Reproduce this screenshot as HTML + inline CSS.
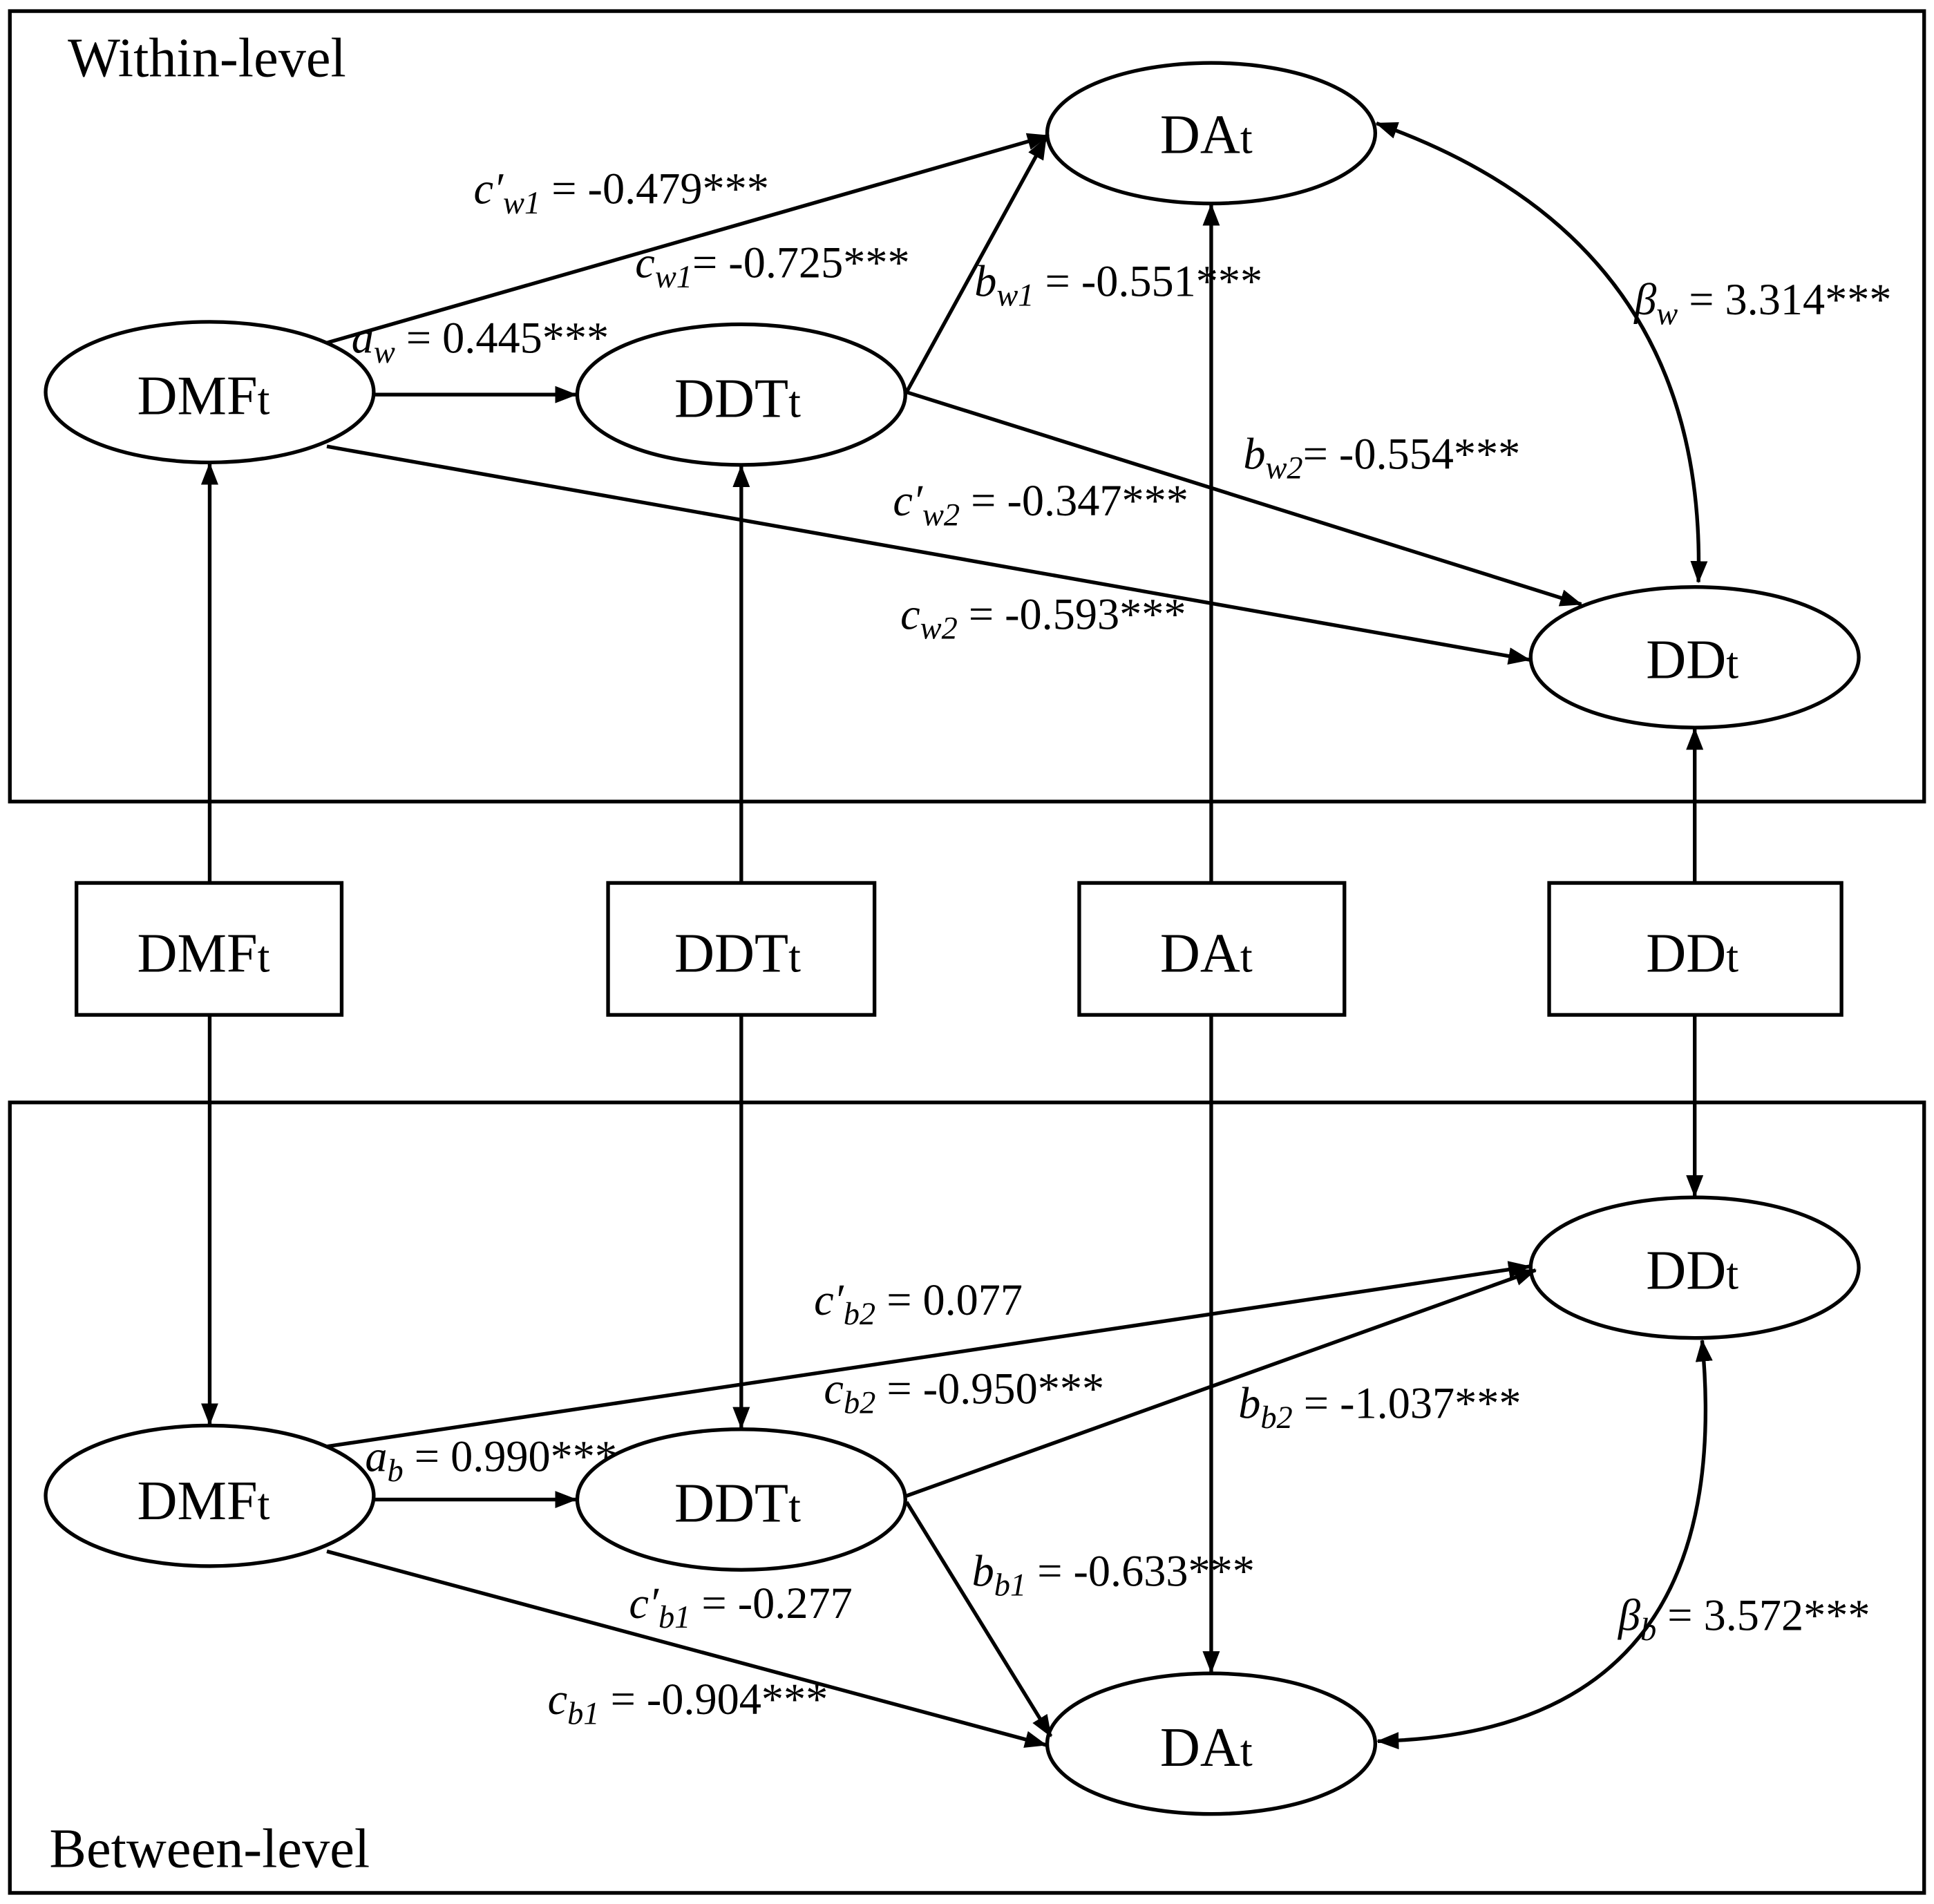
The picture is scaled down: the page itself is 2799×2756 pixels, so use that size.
<!DOCTYPE html>
<html><head><meta charset="utf-8"><style>
html,body{margin:0;padding:0;background:#fff;}
svg{display:block;}
text{font-family:"Liberation Serif",serif;fill:#000;}
.n{font-size:45px;}
.l{font-size:36px;}
.i{font-style:italic;}
</style></head><body>
<svg width="2799" height="2756" viewBox="0 0 1568 1544" preserveAspectRatio="none" xmlns="http://www.w3.org/2000/svg">
<defs>
<marker id="a" markerWidth="18" markerHeight="14" refX="17" refY="7" orient="auto" markerUnits="userSpaceOnUse">
<path d="M0,0 L18,7 L0,14 z" fill="#000"/></marker>
<marker id="s" markerWidth="18" markerHeight="14" refX="1" refY="7" orient="auto" markerUnits="userSpaceOnUse">
<path d="M18,0 L0,7 L18,14 z" fill="#000"/></marker>
</defs>
<g fill="none" stroke="#000" stroke-width="3">
<rect x="8" y="9" width="1552" height="641"/>
<rect x="8" y="894" width="1552" height="641"/>
<ellipse cx="170" cy="318" rx="133" ry="57"/>
<ellipse cx="601" cy="320" rx="133" ry="57"/>
<ellipse cx="982" cy="108" rx="133" ry="57"/>
<ellipse cx="1374" cy="533" rx="133" ry="57"/>
<rect x="62" y="716" width="215" height="107"/>
<rect x="493" y="716" width="216" height="107"/>
<rect x="875" y="716" width="215" height="107"/>
<rect x="1256" y="716" width="237" height="107"/>
<ellipse cx="1374" cy="1028" rx="133" ry="57"/>
<ellipse cx="170" cy="1213" rx="133" ry="57"/>
<ellipse cx="601" cy="1216" rx="133" ry="57"/>
<ellipse cx="982" cy="1414" rx="133" ry="57"/>
</g>
<g fill="none" stroke="#000" stroke-width="3" marker-end="url(#a)">
<line x1="303" y1="320" x2="467" y2="320"/>
<line x1="265" y1="278" x2="850" y2="110"/>
<line x1="735" y1="318" x2="848" y2="112"/>
<line x1="735" y1="318" x2="1282" y2="490"/>
<line x1="265" y1="362" x2="1240" y2="535"/>
<line x1="170" y1="716" x2="170" y2="376"/>
<line x1="601" y1="716" x2="601" y2="378"/>
<line x1="982" y1="716" x2="982" y2="166"/>
<line x1="1374" y1="716" x2="1374" y2="591"/>
<path d="M1116,100 Q1385,195 1377,472" marker-start="url(#s)"/>
<line x1="170" y1="823" x2="170" y2="1155"/>
<line x1="601" y1="823" x2="601" y2="1158"/>
<line x1="982" y1="823" x2="982" y2="1356"/>
<line x1="1374" y1="823" x2="1374" y2="970"/>
<line x1="303" y1="1216" x2="467" y2="1216"/>
<line x1="265" y1="1173" x2="1240" y2="1027"/>
<line x1="735" y1="1213" x2="1245" y2="1030"/>
<line x1="735" y1="1218" x2="852" y2="1408"/>
<line x1="265" y1="1258" x2="848" y2="1415"/>
<path d="M1380,1087 Q1410,1405 1117,1412" marker-start="url(#s)"/>
</g>
<g class="n" text-anchor="middle">
<text x="165" y="336">DMF<tspan font-size="36">t</tspan></text>
<text x="598" y="338">DDT<tspan font-size="36">t</tspan></text>
<text x="978" y="124">DA<tspan font-size="36">t</tspan></text>
<text x="1372" y="550">DD<tspan font-size="36">t</tspan></text>
<text x="165" y="788">DMF<tspan font-size="36">t</tspan></text>
<text x="598" y="788">DDT<tspan font-size="36">t</tspan></text>
<text x="978" y="788">DA<tspan font-size="36">t</tspan></text>
<text x="1372" y="788">DD<tspan font-size="36">t</tspan></text>
<text x="1372" y="1045">DD<tspan font-size="36">t</tspan></text>
<text x="165" y="1232">DMF<tspan font-size="36">t</tspan></text>
<text x="598" y="1234">DDT<tspan font-size="36">t</tspan></text>
<text x="978" y="1432">DA<tspan font-size="36">t</tspan></text>
</g>
<text x="55" y="62" font-size="45">Within-level</text>
<text x="40" y="1514" font-size="45">Between-level</text>
<g class="l">
<text x="384" y="165"><tspan class="i">c′</tspan><tspan class="i" font-size="26" dy="8">w1</tspan><tspan dy="-8"> = -0.479***</tspan></text>
<text x="515" y="225"><tspan class="i">c</tspan><tspan class="i" font-size="26" dy="8">w1</tspan><tspan dy="-8">= -0.725***</tspan></text>
<text x="285" y="286"><tspan class="i">a</tspan><tspan class="i" font-size="26" dy="8">w</tspan><tspan dy="-8"> = 0.445***</tspan></text>
<text x="790" y="240"><tspan class="i">b</tspan><tspan class="i" font-size="26" dy="8">w1</tspan><tspan dy="-8"> = -0.551***</tspan></text>
<text x="1325" y="255"><tspan class="i">β</tspan><tspan class="i" font-size="26" dy="8">w</tspan><tspan dy="-8"> = 3.314***</tspan></text>
<text x="1008" y="380"><tspan class="i">b</tspan><tspan class="i" font-size="26" dy="8">w2</tspan><tspan dy="-8">= -0.554***</tspan></text>
<text x="724" y="418"><tspan class="i">c′</tspan><tspan class="i" font-size="26" dy="8">w2</tspan><tspan dy="-8"> = -0.347***</tspan></text>
<text x="730" y="510"><tspan class="i">c</tspan><tspan class="i" font-size="26" dy="8">w2</tspan><tspan dy="-8"> = -0.593***</tspan></text>
<text x="660" y="1066"><tspan class="i">c′</tspan><tspan class="i" font-size="26" dy="8">b2</tspan><tspan dy="-8"> = 0.077</tspan></text>
<text x="668" y="1138"><tspan class="i">c</tspan><tspan class="i" font-size="26" dy="8">b2</tspan><tspan dy="-8"> = -0.950***</tspan></text>
<text x="1004" y="1150"><tspan class="i">b</tspan><tspan class="i" font-size="26" dy="8">b2</tspan><tspan dy="-8"> = -1.037***</tspan></text>
<text x="296" y="1193"><tspan class="i">a</tspan><tspan class="i" font-size="26" dy="8">b</tspan><tspan dy="-8"> = 0.990***</tspan></text>
<text x="788" y="1286"><tspan class="i">b</tspan><tspan class="i" font-size="26" dy="8">b1</tspan><tspan dy="-8"> = -0.633***</tspan></text>
<text x="1312" y="1322"><tspan class="i">β</tspan><tspan class="i" font-size="26" dy="8">b</tspan><tspan dy="-8"> = 3.572***</tspan></text>
<text x="510" y="1312"><tspan class="i">c′</tspan><tspan class="i" font-size="26" dy="8">b1</tspan><tspan dy="-8"> = -0.277</tspan></text>
<text x="444" y="1390"><tspan class="i">c</tspan><tspan class="i" font-size="26" dy="8">b1</tspan><tspan dy="-8"> = -0.904***</tspan></text>
</g>
</svg>
</body></html>
